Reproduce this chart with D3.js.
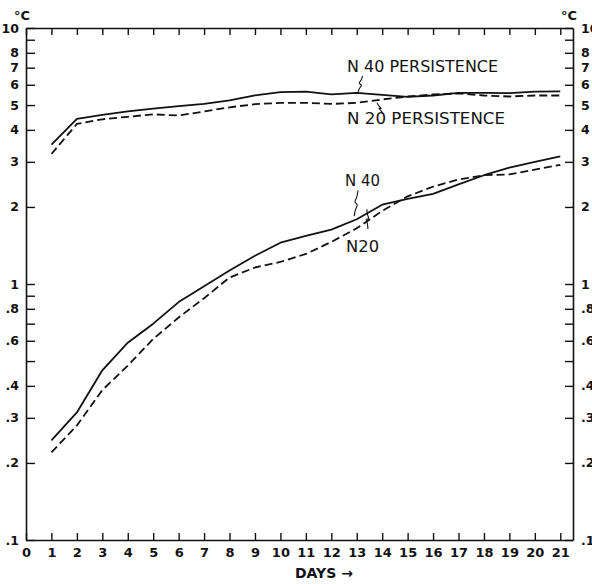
<!DOCTYPE html>
<html>
<head>
<meta charset="utf-8">
<script src="https://cdn.jsdelivr.net/npm/d3@7"></script>
<style>
  html, body { margin: 0; padding: 0; background: #fff; }
  svg { display: block; }
  text { fill: #111; }
</style>
</head>
<body>
<svg id="chart" width="592" height="584"></svg>
<script>
// Forecast error (°C) against forecast range in days, log scale
const days = d3.range(1, 22);

const n40Persistence = [3.5, 4.42, 4.58, 4.72, 4.84, 4.95, 5.05, 5.22, 5.45, 5.62, 5.64, 5.5, 5.58, 5.48, 5.38, 5.45, 5.58, 5.58, 5.57, 5.64, 5.66];
const n20Persistence = [3.22, 4.22, 4.4, 4.5, 4.6, 4.55, 4.72, 4.9, 5.04, 5.1, 5.1, 5.05, 5.1, 5.26, 5.4, 5.5, 5.55, 5.45, 5.4, 5.45, 5.45];
const n40 = [0.245, 0.315, 0.46, 0.59, 0.7, 0.85, 0.98, 1.13, 1.29, 1.45, 1.54, 1.63, 1.79, 2.04, 2.15, 2.25, 2.45, 2.66, 2.85, 3.0, 3.15];
const n20 = [0.22, 0.28, 0.385, 0.48, 0.61, 0.74, 0.88, 1.06, 1.16, 1.22, 1.31, 1.46, 1.65, 1.93, 2.2, 2.4, 2.56, 2.66, 2.68, 2.8, 2.92];

const yTicks = [0.1, 0.2, 0.3, 0.4, 0.5, 0.6, 0.7, 0.8, 0.9, 1, 2, 3, 4, 5, 6, 7, 8, 9, 10];
const yTickLabels = [".1", ".2", ".3", ".4", "", ".6", "", ".8", "", "1", "2", "3", "4", "5", "6", "7", "8", "", "10"];
const xTicks = d3.range(0, 22);

// label text, label anchor (day, value), leader from line (day, value) to label (day, value)
const labelText = ["N 40 PERSISTENCE", "N 20 PERSISTENCE", "N 40", "N20"];
const labelAt = [[12.62, 6.73], [12.62, 4.22], [12.54, 2.41], [12.58, 1.33]];
const labelWidth = [151, 158, 35, 33];
const leaderFrom = [[13.05, 5.6], [13.8, 5.1], [12.9, 1.84], [13.4, 1.96]];
const leaderTo = [[13.23, 6.5], [14.03, 4.62], [13.05, 2.32], [13.44, 1.64]];

const svg = d3.select("#chart");
const plotLeft = 26, plotRight = 573, plotTop = 28, plotBottom = 540;

const x = d3.scaleLinear().domain([0, 21.5]).range([plotLeft, plotRight]);
const y = d3.scaleLog().domain([0.1, 10]).range([plotBottom, plotTop]);

const tickFmt = v => yTickLabels[yTicks.indexOf(v)];
const font = "'DejaVu Sans', sans-serif";

function styleAxis(size) {
  return g => {
    g.select(".domain").attr("stroke", "#111").attr("stroke-width", 1.6);
    g.selectAll(".tick line").attr("stroke", "#111").attr("stroke-width", 1.4);
    g.selectAll(".tick text")
      .attr("font-family", font).attr("font-weight", "bold")
      .attr("font-size", size).attr("fill", "#111");
  };
}

// left axis, ticks pointing into the plot
svg.append("g").attr("transform", `translate(${plotLeft},0)`)
  .call(d3.axisLeft(y).tickValues(yTicks).tickFormat(tickFmt)
    .tickSizeInner(-9).tickSizeOuter(0).tickPadding(7))
  .call(styleAxis(12.5));

// right axis
svg.append("g").attr("transform", `translate(${plotRight},0)`)
  .call(d3.axisRight(y).tickValues(yTicks).tickFormat(tickFmt)
    .tickSizeInner(-8).tickSizeOuter(0).tickPadding(8))
  .call(styleAxis(12.5));

// bottom axis with day numbers
svg.append("g").attr("transform", `translate(0,${plotBottom})`)
  .call(d3.axisBottom(x).tickValues(xTicks).tickFormat(d3.format("d"))
    .tickSizeInner(-7).tickSizeOuter(0).tickPadding(8))
  .call(styleAxis(13));

// top axis, ticks only
svg.append("g").attr("transform", `translate(0,${plotTop})`)
  .call(d3.axisTop(x).tickValues(xTicks).tickFormat("")
    .tickSizeInner(-7).tickSizeOuter(0))
  .call(styleAxis(13));

// unit labels
svg.append("text").attr("x", 14).attr("y", 20)
  .attr("font-family", font).attr("font-weight", "bold").attr("font-size", 13)
  .text("°C");
svg.append("text").attr("x", 561).attr("y", 20)
  .attr("font-family", font).attr("font-weight", "bold").attr("font-size", 13)
  .text("°C");

svg.append("text").attr("x", 295).attr("y", 578)
  .attr("font-family", font).attr("font-weight", "bold").attr("font-size", 14)
  .text("DAYS \u2192");

// series
const line = d3.line().x(d => x(d[0])).y(d => y(d[1]));
const series = [
  { values: n40Persistence, dash: null },
  { values: n20Persistence, dash: "8,4" },
  { values: n40, dash: null },
  { values: n20, dash: "8,4" }
];
series.forEach(s => {
  svg.append("path")
    .datum(days.map((d, i) => [d, s.values[i]]))
    .attr("fill", "none")
    .attr("stroke", "#111")
    .attr("stroke-width", 1.8)
    .attr("stroke-linejoin", "round")
    .attr("stroke-dasharray", s.dash)
    .attr("d", line);
});

// labels with small wavy leader lines
const wavy = d3.line().curve(d3.curveBasis);
labelText.forEach((t, i) => {
  const x0 = x(leaderFrom[i][0]), y0 = y(leaderFrom[i][1]);
  const x1 = x(leaderTo[i][0]), y1 = y(leaderTo[i][1]);
  const mx = (x0 + x1) / 2, my = (y0 + y1) / 2;
  const pts = [[x0, y0], [x0 + (x1 - x0) * 0.3, y0 + (y1 - y0) * 0.3],
               [mx + 2.5, my + 1], [mx - 2.5, my - 1],
               [x0 + (x1 - x0) * 0.7, y0 + (y1 - y0) * 0.7], [x1, y1]];
  svg.append("path").attr("d", wavy(pts))
    .attr("fill", "none").attr("stroke", "#111").attr("stroke-width", 1.1);

  svg.append("text")
    .attr("x", x(labelAt[i][0])).attr("y", y(labelAt[i][1]))
    .attr("font-family", font).attr("font-size", 15)
    .attr("textLength", labelWidth[i]).attr("lengthAdjust", "spacingAndGlyphs")
    .text(t);
});
</script>
</body>
</html>
